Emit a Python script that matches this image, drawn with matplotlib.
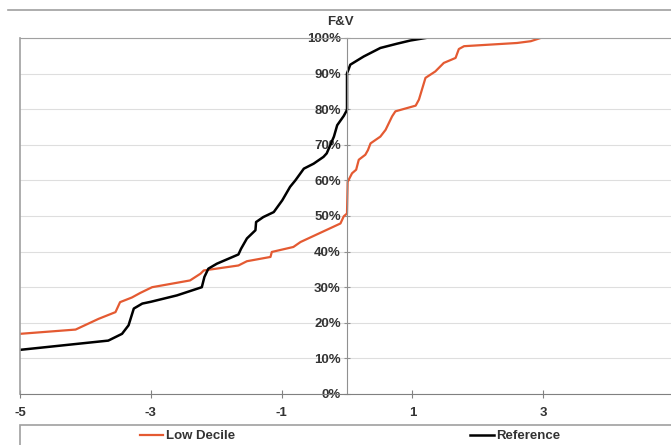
import matplotlib
matplotlib.use("Agg")
from matplotlib import pyplot as plt
from matplotlib.lines import Line2D
from matplotlib.patches import Rectangle

# values (x, cumulative %)
low_decile_x = [-5.0, -4.15, -3.80, -3.54, -3.47, -3.29, -3.16, -2.98, -2.40, -2.24,
                -2.19, -1.66, -1.53, -1.17, -1.15, -0.82, -0.71, -0.10, -0.05, 0.0,
                0.01, 0.077, 0.14, 0.18, 0.28, 0.32, 0.36, 0.51, 0.59, 0.69,
                0.74, 1.05, 1.10, 1.20, 1.35, 1.48, 1.66, 1.71, 1.79, 2.60,
                2.81, 2.96]
low_decile_y = [16.9, 18.1, 21.1, 23.0, 25.8, 27.1, 28.4, 30.0, 31.9, 33.8,
                34.7, 36.1, 37.3, 38.5, 39.9, 41.3, 42.7, 47.9, 49.9, 50.7,
                59.6, 62.0, 63.0, 65.8, 67.2, 68.5, 70.4, 72.3, 74.2, 78.0,
                79.4, 81.0, 82.7, 88.8, 90.6, 93.0, 94.4, 96.9, 97.7, 98.6,
                99.1, 100.0]

reference_x = [-5.0, -3.65, -3.44, -3.34, -3.26, -3.13, -3.0, -2.60, -2.22, -2.18,
               -2.12, -1.99, -1.66, -1.62, -1.53, -1.40, -1.39, -1.28, -1.12, -0.99,
               -0.87, -0.79, -0.66, -0.51, -0.36, -0.31, -0.20, -0.15, -0.05, 0.0,
               0.0, 0.02, 0.05, 0.255, 0.51, 0.765, 0.97, 1.2]
reference_y = [12.4, 15.0, 16.9, 19.3, 24.0, 25.4, 25.9, 27.7, 30.0, 32.9,
               35.2, 36.6, 39.2, 40.8, 43.7, 46.0, 48.3, 49.7, 51.1, 54.4,
               58.2, 60.0, 63.3, 64.7, 66.6, 67.6, 72.3, 75.5, 78.1, 79.8,
               90.1, 91.0, 92.5, 94.8, 97.2, 98.4, 99.3, 100.0]

x_ticks = [-5, -3, -1, 1, 3, 5]
y_ticks = list(range(0, 101, 10))
y_tick_labels = [str(v) + "%" for v in y_ticks]

plt.rcParams['font.family'] = ['Liberation Sans', 'DejaVu Sans']
plt.rcParams['axes.unicode_minus'] = False
W, H = 671, 445
fig = plt.figure(figsize=(W / 100, H / 100), dpi=100)

ax = fig.add_axes([20 / W, 1 - 394 / H, 654 / W, 356 / H])
ax.plot(low_decile_x, low_decile_y, color="#E45A32", lw=1.6, label="Low Decile")
ax.plot(reference_x, reference_y, color="black", lw=1.8, label="Reference")

ax.set_xlim(-5, 5)
ax.set_ylim(0, 100)
ax.set_xticks(x_ticks)
ax.set_yticks(y_ticks)
ax.set_yticklabels(y_tick_labels)
ax.yaxis.grid(True, color="#dedede", lw=0.8)
ax.set_axisbelow(True)

ax.spines['left'].set_position(('data', 0))
ax.spines['left'].set_color("#909090")
ax.spines['bottom'].set_color("#808080")
ax.spines['top'].set_color("#a0a0a0")
ax.spines['right'].set_visible(False)
ax.axvline(-5, color="#a0a0a0", lw=1.2, clip_on=False)

ax.tick_params(axis='x', direction='inout', length=6, color="#808080",
               labelsize=9.5, pad=6)
ax.tick_params(axis='y', direction='inout', length=5, color="#909090",
               labelsize=9.5, pad=2)
for lbl in ax.get_xticklabels() + ax.get_yticklabels():
    lbl.set_fontweight('bold')
    lbl.set_color("#333333")

fig.text(340 / W, 1 - 22 / H, "F&V", ha="center", va="center",
         fontsize=9.5, fontweight="bold", color="#333333")

# chart border line at top and legend box at bottom
fig.add_artist(Line2D([8 / W, 1], [1 - 10 / H, 1 - 10 / H], color="#a0a0a0", lw=1.2))
fig.add_artist(Rectangle((20 / W, -0.1), 1, 0.1 + 20 / H, transform=fig.transFigure,
                         fill=False, edgecolor="#a0a0a0", lw=1.2))

leg = fig.legend(loc="center", bbox_to_anchor=(350 / W, 1 - 436 / H), ncol=2,
                 frameon=False, fontsize=9.5, columnspacing=17.8, handlelength=1.8,
                 handletextpad=0.2)
for t in leg.get_texts():
    t.set_fontweight('bold')
    t.set_color("#333333")

fig.savefig("out.png", dpi=100)
